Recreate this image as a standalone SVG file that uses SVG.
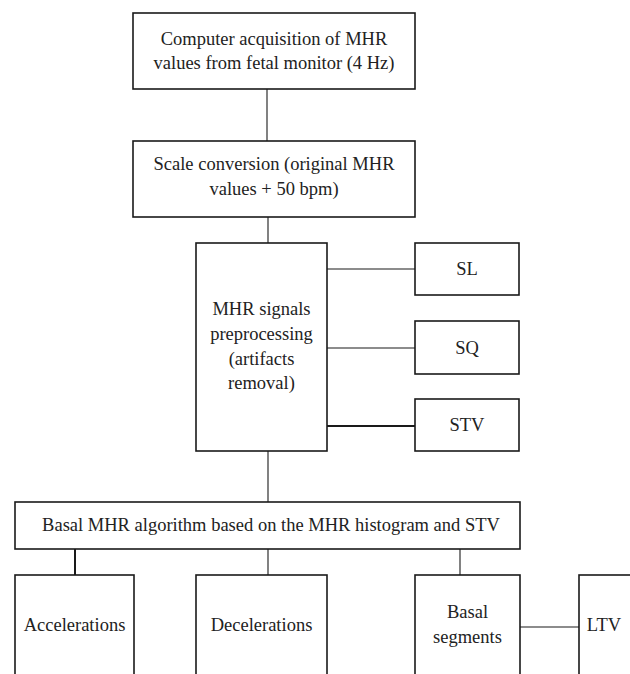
<svg xmlns="http://www.w3.org/2000/svg" width="630" height="674" viewBox="0 0 630 674">
<style>
.box{fill:#fff;stroke:#1a1a1a;stroke-width:1.6}
.ln{stroke:#1a1a1a;stroke-width:1.1;fill:none}
.thk{stroke-width:2}
text{font-family:"Liberation Serif","Times New Roman",serif;font-size:18.5px;fill:#222;text-anchor:middle}
</style>
<rect width="630" height="674" fill="#fff"/>
<g id="connectors">
<line class="ln" x1="267" y1="89" x2="267" y2="141"/>
<line class="ln" x1="268" y1="217" x2="268" y2="243"/>
<line class="ln" x1="327" y1="269" x2="415" y2="269"/>
<line class="ln" x1="327" y1="348" x2="415" y2="348"/>
<line class="ln thk" x1="327" y1="426" x2="415" y2="426"/>
<line class="ln" x1="268" y1="451" x2="268" y2="502"/>
<line class="ln thk" x1="75" y1="549" x2="75" y2="575"/>
<line class="ln" x1="268" y1="549" x2="268" y2="575"/>
<line class="ln" x1="460" y1="549" x2="460" y2="575"/>
<line class="ln" x1="520" y1="627" x2="579" y2="627"/>
</g>
<g id="acquisition">
<rect class="box" x="133" y="13" width="282" height="76"/>
<text x="274" y="45">Computer acquisition of MHR</text>
<text x="274" y="69">values from fetal monitor (4 Hz)</text>
</g>
<g id="scale">
<rect class="box" x="133" y="141" width="282" height="76"/>
<text x="274" y="170">Scale conversion (original MHR</text>
<text x="274" y="195">values + 50 bpm)</text>
</g>
<g id="preprocessing">
<rect class="box" x="196" y="243" width="131" height="208"/>
<text x="261.5" y="315">MHR signals</text>
<text x="261.5" y="340">preprocessing</text>
<text x="261.5" y="365">(artifacts</text>
<text x="261.5" y="389">removal)</text>
</g>
<g id="sl">
<rect class="box" x="415" y="243" width="104" height="52"/>
<text x="467" y="275">SL</text>
</g>
<g id="sq">
<rect class="box" x="415" y="321" width="104" height="53"/>
<text x="467" y="354">SQ</text>
</g>
<g id="stv">
<rect class="box" x="415" y="399" width="104" height="52"/>
<text x="467" y="431">STV</text>
</g>
<g id="basal">
<rect class="box" x="15" y="502" width="505" height="47"/>
<text x="271" y="531">Basal MHR algorithm based on the MHR histogram and STV</text>
</g>
<g id="accelerations">
<rect class="box" x="15" y="575" width="119" height="120"/>
<text x="74.5" y="631">Accelerations</text>
</g>
<g id="decelerations">
<rect class="box" x="196" y="575" width="131" height="120"/>
<text x="261.5" y="631">Decelerations</text>
</g>
<g id="basal-segments">
<rect class="box" x="415" y="575" width="105" height="120"/>
<text x="467.5" y="618">Basal</text>
<text x="467.5" y="643">segments</text>
</g>
<g id="ltv">
<rect class="box" x="579" y="575" width="70" height="120"/>
<text x="604" y="631" style="text-anchor:middle">LTV</text>
</g>
</svg>
